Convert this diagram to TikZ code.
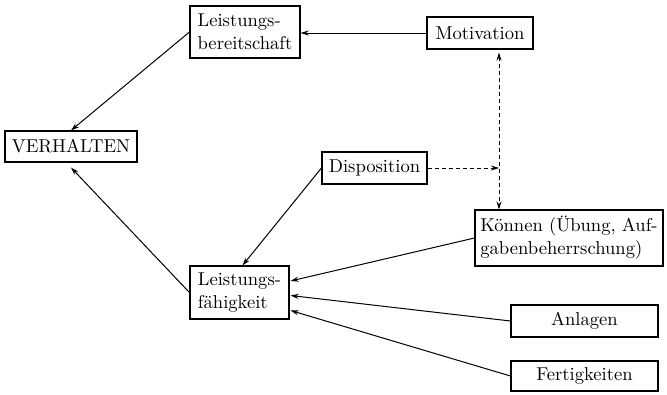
\documentclass[tikz,border=0pt]{standalone}
\usepackage{fontspec}
\setmainfont{lmroman10-regular.otf}
\usetikzlibrary{arrows.meta,calc}
\begin{document}
\begin{tikzpicture}[x=1pt,y=-1pt,
  box/.style={draw,line width=1.1pt,inner sep=0pt,align=left,
    font=\fontsize{18.6}{23}\selectfont},
  conn/.style={line width=1pt,-{Stealth[length=8pt,width=5pt]}},
  dconn/.style={conn,dash pattern=on 4pt off 3pt}]
\useasboundingbox (0,0) rectangle (667,394);

% factors
\node[box,minimum width=110pt,minimum height=52pt] (lb) at (245,32)
  {Leistungs-\\bereitschaft};
\node[box,minimum width=106pt,minimum height=32pt] (mot) at (480,33)
  {Motivation};
\node[box,minimum width=132pt,minimum height=31pt] (vh) at (71,146.5)
  {VERHALTEN};
\node[box,minimum width=105pt,minimum height=32pt] (disp) at (374.5,168)
  {Disposition};
\node[box,minimum width=188pt,minimum height=56pt] (kon) at (569,238)
  {Können (Übung, Auf-\\gabenbeherrschung)};
\node[box,minimum width=99pt,minimum height=53pt] (lf) at (239.5,292.5)
  {Leistungs-\\fähigkeit};
\node[box,minimum width=147pt,minimum height=32pt] (anl) at (584.5,321)
  {Anlagen};
\node[box,minimum width=147pt,minimum height=30pt] (fert) at (584.5,376)
  {Fertigkeiten};

% junction of the dashed links
\coordinate (dj) at (499,168);

% influences
\draw[conn] (mot.west) -- (mot.west -| lb.east);
\draw[conn] (lb.west) -- (vh.north);
\draw[conn] (lf.west) -- ([yshift=-5pt]vh.south);
\draw[conn] (disp.west) -- ([xshift=3pt]lf.north);
\draw[conn] (kon.west) -- ([xshift=1pt,yshift=11.5pt]lf.east);
\draw[conn] (anl.west) -- ([xshift=1pt,yshift=-3pt]lf.east);
\draw[conn] (fert.west) -- ([xshift=1pt,yshift=-18pt]lf.east);

% dashed links
\draw[dconn] (disp.east) -- (dj);
\draw[dconn,{Stealth[length=8pt,width=5pt]}-{Stealth[length=8pt,width=5pt]}]
  ([yshift=-3pt]dj |- mot.south) -- (dj |- kon.north);
\end{tikzpicture}
\end{document}
